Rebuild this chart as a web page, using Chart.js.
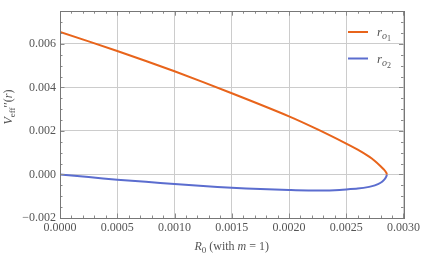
<!DOCTYPE html>
<html>
<head>
<meta charset="utf-8">
<script src="https://cdn.jsdelivr.net/npm/chart.js@4/dist/chart.umd.min.js"></script>
<style>
	html, body { margin: 0; padding: 0; background: #fff; }
	#wrap { width: 423px; height: 257px; }
</style>
</head>
<body>
<div id="wrap"><canvas id="chart-veff"></canvas></div>
<script>
// Curve r_o1 (upper branch)
const R1_X = [0, 0.0005, 0.0010, 0.0015, 0.0020, 0.00225, 0.0025, 0.0026, 0.0027, 0.00275, 0.0028, 0.00283, 0.00285, 0.002855];
const R1_Y = [0.00655, 0.00567, 0.00474, 0.00373, 0.00267, 0.00207, 0.00142, 0.00114, 0.00082, 0.00062, 0.00038, 0.00022, 0.00008, 0];

// Curve r_o2 (lower branch)
const R2_X = [0, 0.00025, 0.0005, 0.00075, 0.0010, 0.00125, 0.0015, 0.00175, 0.0020, 0.00225, 0.0024, 0.0025, 0.0026, 0.0027, 0.00275, 0.0028, 0.00283, 0.00285, 0.002855];
const R2_Y = [0, -0.00012, -0.00024, -0.00034, -0.00044, -0.00053, -0.00061, -0.00067, -0.00071, -0.00074, -0.00072, -0.00069, -0.00065, -0.00057, -0.00050, -0.00038, -0.00025, -0.00009, 0];

// Axes
const X_TICKS = [0, 0.0005, 0.0010, 0.0015, 0.0020, 0.0025, 0.0030];
const X_LABELS = ["0.0000", "0.0005", "0.0010", "0.0015", "0.0020", "0.0025", "0.0030"];
const Y_TICKS = [-0.002, 0, 0.002, 0.004, 0.006];
const Y_LABELS = ["\u22120.002", "0.000", "0.002", "0.004", "0.006"];
const X_RANGE = [0, 0.003];
const Y_RANGE = [-0.002, 0.0075];
const X_MINOR_STEP = 0.0001;
const Y_MINOR_STEP = 0.0005;

const ORANGE = "#e8641b";
const BLUE = "#5b6dcf";
const TEXT = "#555555";
const FRAME = "#8a8a8a";
const SERIF = "'Liberation Serif', 'DejaVu Serif', serif";

const toPoints = (xs, ys) => xs.map((x, i) => ({ x: x, y: ys[i] }));

// draw a run of [text, style, size, dy] pieces, starting at x
const drawPieces = (ctx, pieces, x, y) => {
	pieces.forEach(([txt, style, size, dy]) => {
		ctx.font = `${style} ${size}px ${SERIF}`;
		ctx.fillText(txt, x, y + dy);
		x += ctx.measureText(txt).width;
	});
	return x;
};
const piecesWidth = (ctx, pieces) => pieces.reduce((w, [txt, style, size]) => {
	ctx.font = `${style} ${size}px ${SERIF}`;
	return w + ctx.measureText(txt).width;
}, 0);

// Frame, inward ticks, axis titles and legend
const frameDecor = {
	id: "frameDecor",
	afterDraw(chart) {
		const { ctx, chartArea: a, scales } = chart;
		const sx = scales.x;
		const sy = scales.y;
		ctx.save();
		ctx.strokeStyle = FRAME;
		ctx.lineWidth = 1;

		// minor + major ticks, all pointing inside
		ctx.beginPath();
		for (let v = X_RANGE[0]; v <= X_RANGE[1] + 1e-9; v += X_MINOR_STEP) {
			const px = Math.round(sx.getPixelForValue(v)) + 0.5;
			const major = X_TICKS.some((t) => Math.abs(t - v) < 1e-9);
			const len = major ? 4.5 : 2.5;
			ctx.moveTo(px, a.bottom); ctx.lineTo(px, a.bottom - len);
			ctx.moveTo(px, a.top); ctx.lineTo(px, a.top + len);
		}
		for (let v = Y_RANGE[0]; v <= Y_RANGE[1] + 1e-9; v += Y_MINOR_STEP) {
			const py = Math.round(sy.getPixelForValue(v)) + 0.5;
			const major = Y_TICKS.some((t) => Math.abs(t - v) < 1e-9);
			const len = major ? 4.5 : 2.5;
			ctx.moveTo(a.left, py); ctx.lineTo(a.left + len, py);
			ctx.moveTo(a.right, py); ctx.lineTo(a.right - len, py);
		}
		ctx.stroke();

		// frame
		ctx.strokeStyle = "#777777";
		ctx.strokeRect(Math.round(a.left) + 0.5, Math.round(a.top) + 0.5,
			Math.round(a.right - a.left), Math.round(a.bottom - a.top));

		// x title: R_0 (with m = 1)
		ctx.fillStyle = TEXT;
		ctx.textBaseline = "alphabetic";
		const xt = [["R", "italic", 12, 0], ["0", "normal", 9, 3], [" (with ", "normal", 12, 0], ["m", "italic", 12, 0], [" = 1)", "normal", 12, 0]];
		drawPieces(ctx, xt, (a.left + a.right) / 2 - piecesWidth(ctx, xt) / 2, 250);

		// y title: V_eff''(r), rotated
		const yt = [["V", "italic", 12, 0], ["eff", "normal", 9, 3], ["\u2032\u2032", "normal", 12, 0], ["(", "normal", 12, 0], ["r", "italic", 12, 0], [")", "normal", 12, 0]];
		ctx.save();
		ctx.translate(12, 107);
		ctx.rotate(-Math.PI / 2);
		drawPieces(ctx, yt, -piecesWidth(ctx, yt) / 2, 0);
		ctx.restore();

		// legend
		chart.data.datasets.forEach((ds, i) => {
			const ly = 32 + i * 26.5;
			ctx.strokeStyle = ds.borderColor;
			ctx.lineWidth = 2;
			ctx.beginPath();
			ctx.moveTo(348, ly); ctx.lineTo(368, ly);
			ctx.stroke();
			drawPieces(ctx, [["r", "italic", 13, 0], ["o", "italic", 10, 3], [String(i + 1), "normal", 8, 5]], 377, ly + 4);
		});
		ctx.restore();
	},
};

const CHART_DATA = {
	datasets: [
		{
			label: "r_o1",
			data: toPoints(R1_X, R1_Y),
			borderColor: ORANGE,
			borderWidth: 2,
			pointRadius: 0,
			showLine: true,
			tension: 0.2,
		},
		{
			label: "r_o2",
			data: toPoints(R2_X, R2_Y),
			borderColor: BLUE,
			borderWidth: 2,
			pointRadius: 0,
			showLine: true,
			tension: 0.2,
		},
	],
};

const tickFont = { family: SERIF, size: 12 };

const CHART_CONFIG = {
	type: "scatter",
	data: CHART_DATA,
	options: {
		responsive: true,
		maintainAspectRatio: false,
		animation: false,
		layout: { padding: { top: 4, right: 17, left: 0, bottom: 0 } },
		plugins: {
			legend: { display: false },
			tooltip: { enabled: false },
		},
		scales: {
			x: {
				type: "linear",
				min: X_RANGE[0],
				max: X_RANGE[1],
				afterBuildTicks: (scale) => { scale.ticks = X_TICKS.map((v) => ({ value: v })); },
				afterFit: (scale) => { scale.height = 39; },
				border: { display: false },
				grid: { color: "#cccccc", lineWidth: 1, drawTicks: false },
				ticks: {
					font: tickFont,
					color: TEXT,
					padding: 3,
					maxRotation: 0,
					callback: (v, i) => X_LABELS[i],
				},
			},
			y: {
				type: "linear",
				min: Y_RANGE[0],
				max: Y_RANGE[1],
				afterBuildTicks: (scale) => { scale.ticks = Y_TICKS.map((v) => ({ value: v })); },
				afterFit: (scale) => { scale.width = 60; },
				border: { display: false },
				grid: { color: "#cccccc", lineWidth: 1, drawTicks: false },
				ticks: {
					font: tickFont,
					color: TEXT,
					padding: 4,
					callback: (v, i) => Y_LABELS[i],
				},
			},
		},
	},
	plugins: [frameDecor],
};

const CHART_WRAPPER = document.getElementById("chart-veff");
if (CHART_WRAPPER) {
	new Chart(CHART_WRAPPER, CHART_CONFIG);
}
</script>
</body>
</html>
